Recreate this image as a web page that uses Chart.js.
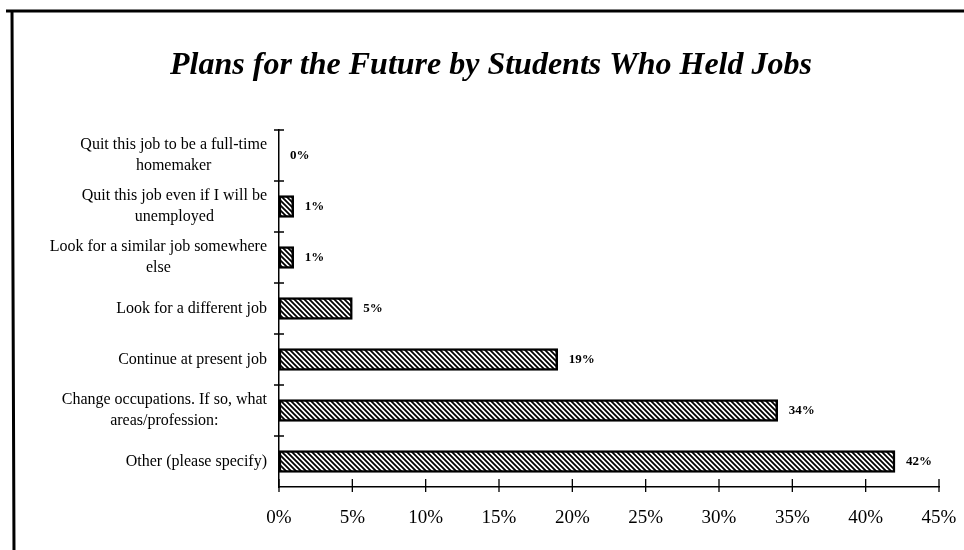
<!DOCTYPE html>
<html>
<head>
<meta charset="utf-8">
<title>Plans for the Future by Students Who Held Jobs</title>
<script src="https://cdn.jsdelivr.net/npm/chart.js@4.4.1/dist/chart.umd.min.js"></script>
<style>
  html, body { margin: 0; padding: 0; background: #fff; }
  #wrap { width: 964px; height: 550px; }
</style>
</head>
<body>
<div id="wrap"><canvas id="chart" width="964" height="550"></canvas></div>
<script>
// Response categories (multi-line labels), top to bottom
const categories = [
  ["Quit this job to be a full-time", "homemaker"],
  ["Quit this job even if I will be", "unemployed"],
  ["Look for a similar job somewhere", "else"],
  ["Look for a different job"],
  ["Continue at present job"],
  ["Change occupations. If so, what", "areas/profession:"],
  ["Other (please specify)"]
];

// Share of students choosing each plan, in percent
const shares = [0, 1, 1, 5, 19, 34, 42];

// Value axis ticks, in percent
const xTickValues = [0, 5, 10, 15, 20, 25, 30, 35, 40, 45];

const TITLE = "Plans for the Future by Students Who Held Jobs";
const SERIF = "'Liberation Serif', 'Times New Roman', serif";

// Diagonal hatch fill for the bars
function makeHatch() {
  const s = 5;
  const c = document.createElement('canvas');
  c.width = s; c.height = s;
  const g = c.getContext('2d');
  g.fillStyle = '#fff';
  g.fillRect(0, 0, s, s);
  g.strokeStyle = '#000';
  g.lineWidth = 1.8;
  g.beginPath();
  g.moveTo(-1, -1); g.lineTo(s + 1, s + 1);
  g.moveTo(s - 1, -1); g.lineTo(s + 1, 1);
  g.moveTo(-1, s - 1); g.lineTo(1, s + 1);
  g.stroke();
  return g.createPattern(c, 'repeat');
}

// Frame, category labels, crossing tick marks and value labels
const decorations = {
  id: 'decorations',
  afterDraw(chart) {
    const ctx = chart.ctx;
    const area = chart.chartArea;
    const xs = chart.scales.x;
    const ys = chart.scales.y;
    ctx.save();

    // page frame (top and left rules)
    ctx.strokeStyle = '#000';
    ctx.lineWidth = 3;
    ctx.beginPath();
    ctx.moveTo(6, 11); ctx.lineTo(964, 11);
    ctx.moveTo(12, 10); ctx.lineTo(14, 550);
    ctx.stroke();

    // category labels: block right-aligned to the axis, lines centred in the block
    ctx.fillStyle = '#000';
    ctx.font = '16px ' + SERIF;
    ctx.textAlign = 'center';
    ctx.textBaseline = 'middle';
    const lineH = 21;
    categories.forEach((lines, i) => {
      const y = ys.getPixelForValue(i);
      const w = Math.max(...lines.map(l => ctx.measureText(l).width));
      const cx = area.left - 12 - w / 2;
      lines.forEach((l, j) => {
        ctx.fillText(l, cx, y + (j - (lines.length - 1) / 2) * lineH);
      });
    });

    // tick marks crossing the category axis at band boundaries
    ctx.lineWidth = 1.3;
    const band = ys.getPixelForValue(1) - ys.getPixelForValue(0);
    ctx.beginPath();
    for (let k = 0; k < categories.length; k++) {
      const y = ys.getPixelForValue(0) - band / 2 + k * band;
      ctx.moveTo(area.left - 5, y); ctx.lineTo(area.left + 5, y);
    }
    // tick marks crossing the value axis
    xTickValues.forEach(v => {
      const x = xs.getPixelForValue(v);
      ctx.moveTo(x, area.bottom - 8); ctx.lineTo(x, area.bottom + 5);
    });
    ctx.stroke();

    // value labels to the right of each bar
    ctx.font = 'bold 13px ' + SERIF;
    ctx.textAlign = 'left';
    const meta = chart.getDatasetMeta(0);
    meta.data.forEach((bar, i) => {
      ctx.fillText(shares[i] + '%', bar.x + 11, bar.y);
    });

    ctx.restore();
  }
};

const ctx = document.getElementById('chart').getContext('2d');
new Chart(ctx, {
  type: 'bar',
  data: {
    labels: categories,
    datasets: [{
      data: shares,
      backgroundColor: makeHatch(),
      borderColor: '#000',
      borderWidth: 2.5,
      borderSkipped: false,
      barThickness: 22
    }]
  },
  options: {
    indexAxis: 'y',
    responsive: false,
    devicePixelRatio: 1,
    animation: false,
    layout: { padding: { top: 10, left: 43, right: 25, bottom: 0 } },
    plugins: {
      legend: { display: false },
      tooltip: { enabled: false },
      title: {
        display: true,
        text: TITLE,
        color: '#000',
        font: { family: SERIF, size: 32, style: 'italic', weight: 'bold', lineHeight: 1.2 },
        padding: { top: 37, bottom: 44.6 }
      }
    },
    scales: {
      x: {
        min: 0,
        max: 45,
        afterBuildTicks(scale) {
          scale.ticks = xTickValues.map(v => ({ value: v }));
        },
        afterFit(scale) {
          scale.height = 63;
          scale.paddingLeft = 0;
          scale.paddingRight = 0;
        },
        ticks: {
          color: '#000',
          font: { family: SERIF, size: 19 },
          padding: 12,
          maxRotation: 0,
          callback: v => v + '%'
        },
        grid: { display: false },
        border: { display: true, color: '#000', width: 1.5 }
      },
      y: {
        afterFit(scale) { scale.width = 236; },
        ticks: { display: false },
        grid: { display: false },
        border: { display: true, color: '#000', width: 1.5 }
      }
    }
  },
  plugins: [decorations]
});
</script>
</body>
</html>
